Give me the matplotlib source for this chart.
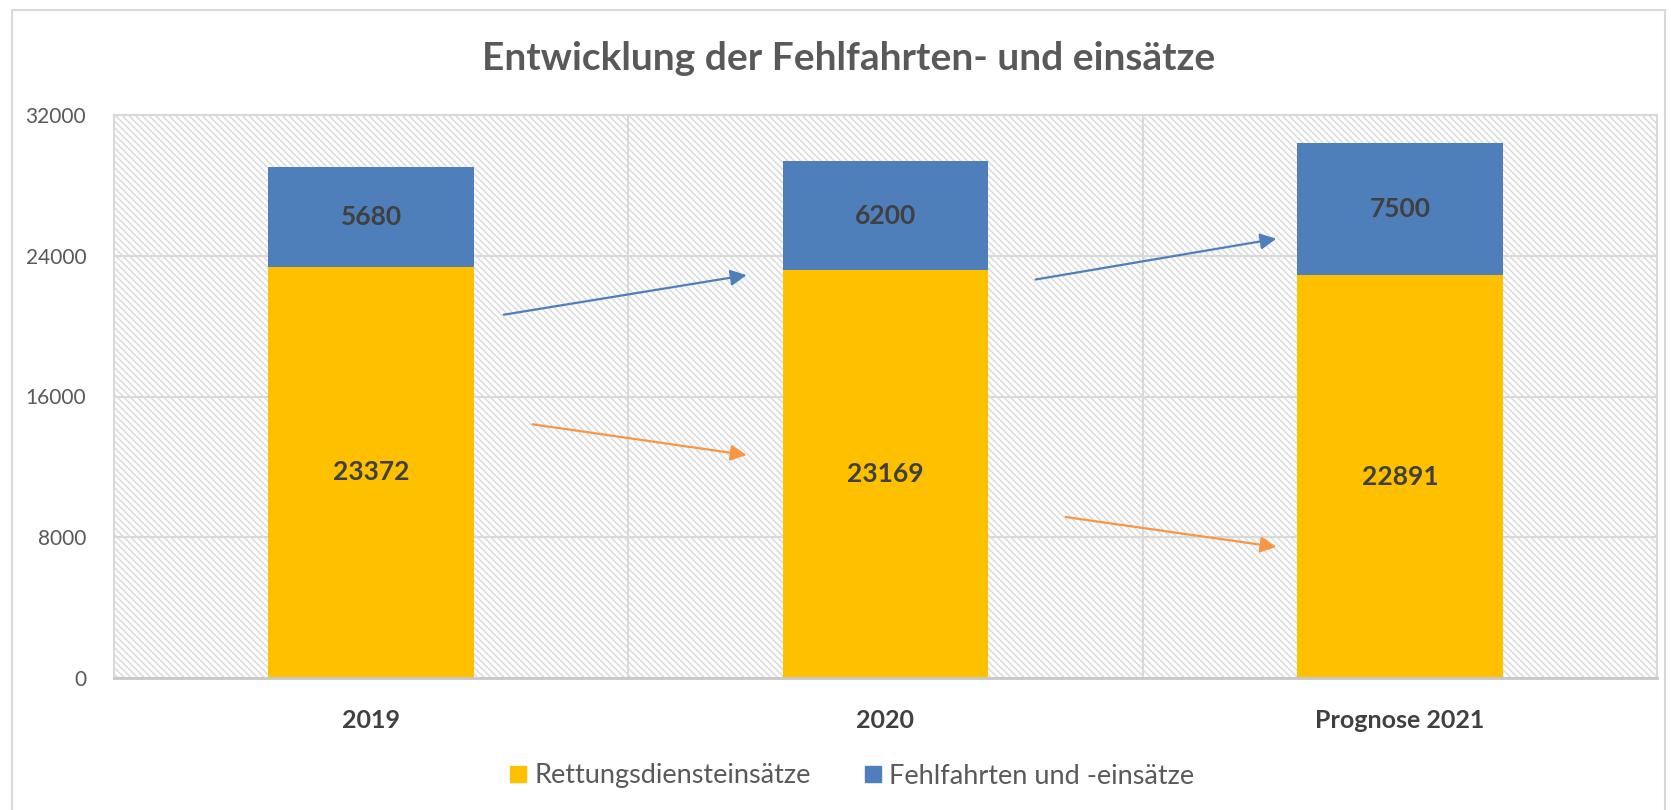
import matplotlib.pyplot as plt
from matplotlib.patches import Rectangle
from matplotlib.lines import Line2D
import numpy as np

plt.rcParams['font.family'] = ['Lato', 'DejaVu Sans']
plt.rcParams['hatch.linewidth'] = 1.1

# chart data
categories = ['2019', '2020', 'Prognose 2021']
rettung = [23372, 23169, 22891]
fehlfahrten = [5680, 6200, 7500]
series_names = ['Rettungsdiensteinsätze', 'Fehlfahrten und -einsätze']
y_ticks = [0, 8000, 16000, 24000, 32000]

# hand drawn trend arrows (data coords: x0, y0, x1, y1)
blue_arrows = [(0.258, 20650, 0.73, 22900), (1.292, 22650, 1.76, 24970)]
orange_arrows = [(0.314, 14420, 0.73, 12670), (1.35, 9150, 1.76, 7450)]

YELLOW = '#FFC000'
BLUE = '#4F7FBB'
ORANGE = '#F79646'
GRID = '#D9D9D9'

W, H = 1671, 810
fig = plt.figure(figsize=(W / 100, H / 100), dpi=100)
ax = fig.add_axes([114 / W, 1 - 678 / H, (1657 - 114) / W, (678 - 115) / H])

# hatched plot background
bg = Rectangle((0, 0), 1, 1, transform=ax.transAxes, facecolor='white',
               edgecolor='#DADADA', hatch='\\\\\\\\\\', linewidth=0, zorder=0.1)
ax.add_patch(bg)

x = np.arange(len(categories))
width = 0.4
b1 = ax.bar(x, rettung, width, color=YELLOW, zorder=2)
b2 = ax.bar(x, fehlfahrten, width, bottom=rettung, color=BLUE, zorder=2)

for i in range(len(categories)):
    ax.text(x[i], rettung[i] / 2, str(rettung[i]), ha='center', va='center',
            fontsize=19, fontweight='bold', color='#404040', zorder=3)
    ax.text(x[i], rettung[i] + fehlfahrten[i] / 2, str(fehlfahrten[i]),
            ha='center', va='center', fontsize=19, fontweight='bold',
            color='#404040', zorder=3)

for (x0, y0, x1, y1), col in [(a, BLUE) for a in blue_arrows] + [(a, ORANGE) for a in orange_arrows]:
    ax.annotate('', xy=(x1, y1), xytext=(x0, y0),
                arrowprops=dict(arrowstyle='-|>', color=col, lw=1.6,
                                mutation_scale=24, shrinkA=0, shrinkB=0),
                zorder=4)

ax.set_xlim(-0.5, 2.5)
ax.set_ylim(0, 32000)
ax.set_yticks(y_ticks)
ax.set_yticklabels([str(v) for v in y_ticks])
ax.set_xticks(x)
ax.set_xticklabels(categories)
ax.set_axisbelow(True)
ax.grid(axis='y', color=GRID, lw=1.5, zorder=1)
for xv in [0.5, 1.5]:
    ax.axvline(xv, color=GRID, lw=1.5, zorder=1)

ax.tick_params(axis='y', length=0, pad=20, labelsize=15, labelcolor='#595959')
ax.tick_params(axis='x', length=0, pad=22, labelsize=18, labelcolor='#404040')
for lab in ax.get_xticklabels():
    lab.set_fontweight('bold')

for side in ['top', 'left', 'right']:
    ax.spines[side].set_color(GRID)
    ax.spines[side].set_linewidth(1.5)
ax.spines['bottom'].set_color('#C8C8C8')
ax.spines['bottom'].set_linewidth(2)

fig.text(0.508, 1 - 59 / H, 'Entwicklung der Fehlfahrten- und einsätze',
         ha='center', va='center', fontsize=28, fontweight='bold', color='#595959')

handles = [Line2D([], [], marker='s', linestyle='none', markersize=11,
                  markerfacecolor=c, markeredgecolor=c) for c in (YELLOW, BLUE)]
fig.legend(handles, series_names, loc='center', bbox_to_anchor=(0.51, 1 - 776 / H),
           ncol=2, frameon=False, fontsize=19.5, labelcolor='#595959',
           handlelength=0.6, handletextpad=0.3, columnspacing=2.0)

# outer chart border
fig.patches.append(Rectangle((12 / W, -0.05), (1665 - 12) / W, 1.05 - 10 / H,
                             transform=fig.transFigure, fill=False,
                             edgecolor=GRID, lw=1.5))

fig.savefig('out.png', dpi=100)
